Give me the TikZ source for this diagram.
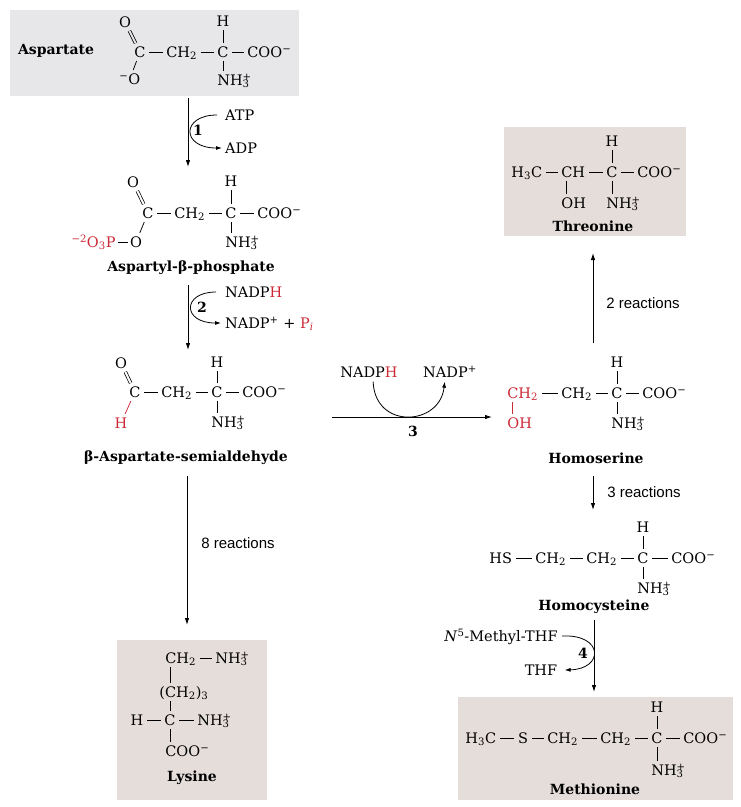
\documentclass[tikz,border=0pt]{standalone}
\usepackage{fontspec}
\setmainfont{DejaVu Serif}
\newfontfamily\sansf{Liberation Sans}
\usetikzlibrary{arrows.meta}
\definecolor{chemred}{HTML}{CC2936}
\definecolor{aspbg}{HTML}{E7E7E9}
\definecolor{prodbg}{HTML}{E5DDDA}
\newcommand\NHplus{NH\rlap{\textsuperscript{+}}\textsubscript{3}}
\newcommand\COOm{COO\textsuperscript{−}}
\newcommand\CHtwo{CH\textsubscript{2}}
\tikzset{
 atom/.style={inner sep=1.2pt, text height=10.5pt, text depth=0pt, font=\fontsize{14.5}{17}\selectfont},
 L/.style={atom, anchor=west},
 bond/.style={line width=0.75pt, shorten >=2.5pt, shorten <=2.5pt},
 dbond/.style={bond, double=#1, double distance=2pt},
 dbond/.default=white,
 cname/.style={font=\bfseries\fontsize{14}{17}\selectfont, inner sep=1pt},
 rnum/.style={font=\bfseries\fontsize{14}{17}\selectfont, inner sep=1pt},
 rtxt/.style={font=\sansf\fontsize{15}{18}\selectfont, inner sep=1pt},
 rxn/.style={line width=0.9pt, -{Latex[length=7pt,width=4.5pt]}},
 side/.style={line width=0.8pt, -{Latex[length=6pt,width=4pt]}},
 aspbox/.style={fill=aspbg, draw=none, anchor=north west, inner sep=0pt},
 prodbox/.style={fill=prodbg, draw=none, anchor=north west, inner sep=0pt}
}
\begin{document}
\begin{tikzpicture}[x=1pt,y=-1pt]
\useasboundingbox (0,0) rectangle (741,807);

% ---------- Aspartate ----------
\node[aspbox, minimum width=289pt, minimum height=86pt] (bxA) at (10,10) {};
\node[cname] (nA) at (56,51) {Aspartate};
\node[atom] (aO1) at (125,22) {O};
\node[atom] (aC1) at (140,52) {C};
\node[L] (aO2) at (118,79) {\textsuperscript{−}O};
\node[L] (aCH2) at (165,52) {\CHtwo};
\node[atom] (aC2) at (223,52) {C};
\node[atom] (aH) at (223,21) {H};
\node[L] (aCOO) at (246,52) {\COOm};
\node[L] (aNH) at (216,80) {\NHplus};
\draw[dbond=aspbg] (aO1) -- (aC1);
\draw[bond] (aC1) -- (aO2);
\draw[bond] (aC1) -- (aCH2);
\draw[bond] (aCH2) -- (aC2);
\draw[bond] (aC2) -- (aH);
\draw[bond] (aC2) -- (aCOO);
\draw[bond] (aC2) -- (aC2 |- aNH.north);

% ---------- Reaction 1 ----------
\coordinate (r1s) at (188,98);
\coordinate (r1e) at (188,167);
\draw[rxn] (r1s) -- (r1e);
\node[L, inner sep=0pt] (rATP) at (225,115) {ATP};
\node[L, inner sep=0pt] (rADP) at (225,148) {ADP};
\draw[side] ([xshift=-8pt]rATP.west) .. controls (181,115) and (181,148) .. ([xshift=-3pt]rADP.west);
\node[rnum] (k1) at (198,130) {1};

% ---------- Aspartyl-beta-phosphate ----------
\node[atom] (pO1) at (133,182) {O};
\node[atom] (pC1) at (148,213) {C};
\node[L] (pCH2) at (173,213) {\CHtwo};
\node[atom] (pC2) at (231,213) {C};
\node[atom] (pH) at (231,181) {H};
\node[L] (pCOO) at (256,213) {\COOm};
\node[L] (pNH) at (224,242) {\NHplus};
\node[atom] (pO2) at (136,242) {O};
\node[atom, anchor=east, text=chemred] (pP) at (117,242) {\textsuperscript{−2}O\textsubscript{3}P};
\node[cname] (nP) at (191,268) {Aspartyl-β-phosphate};
\draw[dbond] (pO1) -- (pC1);
\draw[bond] (pC1) -- (pO2);
\draw[bond, shorten <=0.5pt, shorten >=0.5pt] (pP) -- (pO2);
\draw[bond] (pC1) -- (pCH2);
\draw[bond] (pCH2) -- (pC2);
\draw[bond] (pC2) -- (pH);
\draw[bond] (pC2) -- (pCOO);
\draw[bond] (pC2) -- (pC2 |- pNH.north);

% ---------- Reaction 2 ----------
\coordinate (r2s) at (188,285);
\coordinate (r2e) at (188,350);
\draw[rxn] (r2s) -- (r2e);
\node[L, inner sep=0pt] (rNADPH2) at (225,292) {NADP\textcolor{chemred}{H}};
\node[L, inner sep=0pt] (rNADP2) at (225,323) {NADP\textsuperscript{+} + \textcolor{chemred}{P\textsubscript{\textit{i}}}};
\draw[side] ([xshift=-9pt]rNADPH2.west) .. controls (182,292) and (182,323) .. ([xshift=-4pt]rNADP2.west);
\node[rnum] (k2) at (202,307) {2};

% ---------- beta-Aspartate-semialdehyde ----------
\node[atom] (sO) at (121,363) {O};
\node[atom] (sC1) at (135,392) {C};
\node[L] (sCH2) at (160,392) {\CHtwo};
\node[atom] (sC2) at (217,392) {C};
\node[atom] (sH) at (217,362) {H};
\node[L] (sCOO) at (241,392) {\COOm};
\node[L] (sNH) at (210,422) {\NHplus};
\node[atom, text=chemred] (sHr) at (121,423) {H};
\node[cname] (nS) at (186,458) {β-Aspartate-semialdehyde};
\draw[dbond] (sO) -- (sC1);
\draw[bond, chemred] (sC1) -- (sHr);
\draw[bond] (sC1) -- (sCH2);
\draw[bond] (sCH2) -- (sC2);
\draw[bond] (sC2) -- (sH);
\draw[bond] (sC2) -- (sCOO);
\draw[bond] (sC2) -- (sC2 |- sNH.north);

% ---------- Reaction 3 ----------
\coordinate (r3s) at (332,417);
\coordinate (r3e) at (492,417);
\draw[rxn] (r3s) -- (r3e);
\node[atom] (rNADPH3) at (369,372) {NADP\textcolor{chemred}{H}};
\node[atom] (rNADP3) at (450,372) {NADP\textsuperscript{+}};
\draw[side, shorten <=3pt, shorten >=3pt] ([xshift=4pt]rNADPH3.south) .. controls (375,430) and (440,426) .. ([xshift=-5pt]rNADP3.south);
\node[rnum] (k3) at (413,431) {3};

% ---------- Homoserine ----------
\node[L, text=chemred] (hCH2r) at (506,393) {\CHtwo};
\node[L, text=chemred] (hOH) at (506,423) {OH};
\node[L] (hCH2) at (560,393) {\CHtwo};
\node[atom] (hC) at (617,393) {C};
\node[atom] (hH) at (617,362) {H};
\node[L] (hCOO) at (641,393) {\COOm};
\node[L] (hNH) at (610,423) {\NHplus};
\node[cname] (nH) at (596,458) {Homoserine};
\draw[bond, chemred] ([xshift=6.4pt]hCH2r.south west) -- ([xshift=6.4pt]hOH.north west);
\draw[bond] (hCH2r) -- (hCH2);
\draw[bond] (hCH2) -- (hC);
\draw[bond] (hC) -- (hH);
\draw[bond] (hC) -- (hCOO);
\draw[bond] (hC) -- (hC |- hNH.north);

% ---------- to Threonine ----------
\coordinate (r5s) at (593,343);
\coordinate (r5e) at (593,253);
\draw[rxn] (r5s) -- (r5e);
\node[rtxt] (t5) at (643,303) {2 reactions};

\node[prodbox, minimum width=182pt, minimum height=109pt] (bxT) at (504,127) {};
\node[L] (tH3C) at (510,172) {H\textsubscript{3}C};
\node[L] (tCH) at (560,172) {CH};
\node[atom] (tC) at (612,172) {C};
\node[atom] (tH) at (612,141) {H};
\node[L] (tCOO) at (636,172) {\COOm};
\node[L] (tOH) at (560,203) {OH};
\node[L] (tNH) at (605,203) {\NHplus};
\node[cname] (nT) at (593,226) {Threonine};
\draw[bond] (tH3C) -- (tCH);
\draw[bond] (tCH) -- (tC);
\draw[bond] (tC) -- (tH);
\draw[bond] (tC) -- (tCOO);
\draw[bond] (tC) -- (tC |- tNH.north);
\draw[bond] ([xshift=6.4pt]tCH.south west) -- ([xshift=6.4pt]tOH.north west);

% ---------- to Homocysteine ----------
\coordinate (r6s) at (593,476);
\coordinate (r6e) at (593,510);
\draw[rxn] (r6s) -- (r6e);
\node[rtxt] (t6) at (644,492) {3 reactions};

\node[L] (cHS) at (488,558) {HS};
\node[L] (cCH2a) at (534,558) {\CHtwo};
\node[L] (cCH2b) at (585,558) {\CHtwo};
\node[atom] (cC) at (643,558) {C};
\node[atom] (cH) at (643,527) {H};
\node[L] (cCOO) at (670,558) {\COOm};
\node[L] (cNH) at (636,588) {\NHplus};
\node[cname] (nC) at (594,607) {Homocysteine};
\draw[bond] (cHS) -- (cCH2a);
\draw[bond] (cCH2a) -- (cCH2b);
\draw[bond] (cCH2b) -- (cC);
\draw[bond] (cC) -- (cH);
\draw[bond] (cC) -- (cCOO);
\draw[bond] (cC) -- (cC |- cNH.north);

% ---------- Reaction 4 ----------
\coordinate (r4s) at (594,620);
\coordinate (r4e) at (594,692);
\draw[rxn] (r4s) -- (r4e);
\node[atom] (rN5) at (501,636) {\textit{N}\textsuperscript{5}-Methyl-THF};
\node[atom] (rTHF) at (541,670) {THF};
\draw[side] ([xshift=3pt]rN5.east) .. controls (604,634) and (604,669) .. ([xshift=6pt]rTHF.east);
\node[rnum] (k4) at (583,653) {4};

% ---------- Methionine ----------
\node[prodbox, minimum width=275pt, minimum height=103pt] (bxM) at (458,697) {};
\node[L] (mH3C) at (464,738) {H\textsubscript{3}C};
\node[atom] (mS) at (523,738) {S};
\node[L] (mCH2a) at (546,738) {\CHtwo};
\node[L] (mCH2b) at (599,738) {\CHtwo};
\node[atom] (mC) at (657,738) {C};
\node[atom] (mH) at (657,707) {H};
\node[L] (mCOO) at (682,738) {\COOm};
\node[L] (mNH) at (650,770) {\NHplus};
\node[cname] (nM) at (595,789) {Methionine};
\draw[bond] (mH3C) -- (mS);
\draw[bond] (mS) -- (mCH2a);
\draw[bond] (mCH2a) -- (mCH2b);
\draw[bond] (mCH2b) -- (mC);
\draw[bond] (mC) -- (mH);
\draw[bond] (mC) -- (mCOO);
\draw[bond] (mC) -- (mC |- mNH.north);

% ---------- to Lysine ----------
\coordinate (r7s) at (187,476);
\coordinate (r7e) at (187,625);
\draw[rxn] (r7s) -- (r7e);
\node[rtxt] (t7) at (238,543) {8 reactions};

\node[prodbox, minimum width=150pt, minimum height=160pt] (bxL) at (117,640) {};
\node[L] (lCH2) at (164,658) {\CHtwo};
\node[L] (lNH1) at (214,658) {\NHplus};
\node[L] (lCH23) at (158,692) {(CH\textsubscript{2})\textsubscript{3}};
\node[atom] (lH) at (137,720) {H};
\node[atom] (lC) at (170,720) {C};
\node[L] (lNH2) at (196,720) {\NHplus};
\node[L] (lCOO) at (164,751) {\COOm};
\node[cname] (nL) at (192,778) {Lysine};
\draw[bond] (lCH2) -- (lNH1);
\draw[bond] (lC |- lCH2.south) -- (lC |- lCH23.north);
\draw[bond] (lC |- lCH23.south) -- (lC);
\draw[bond] (lH) -- (lC);
\draw[bond] (lC) -- (lNH2);
\draw[bond] (lC) -- (lC |- lCOO.north);
\end{tikzpicture}
\end{document}
